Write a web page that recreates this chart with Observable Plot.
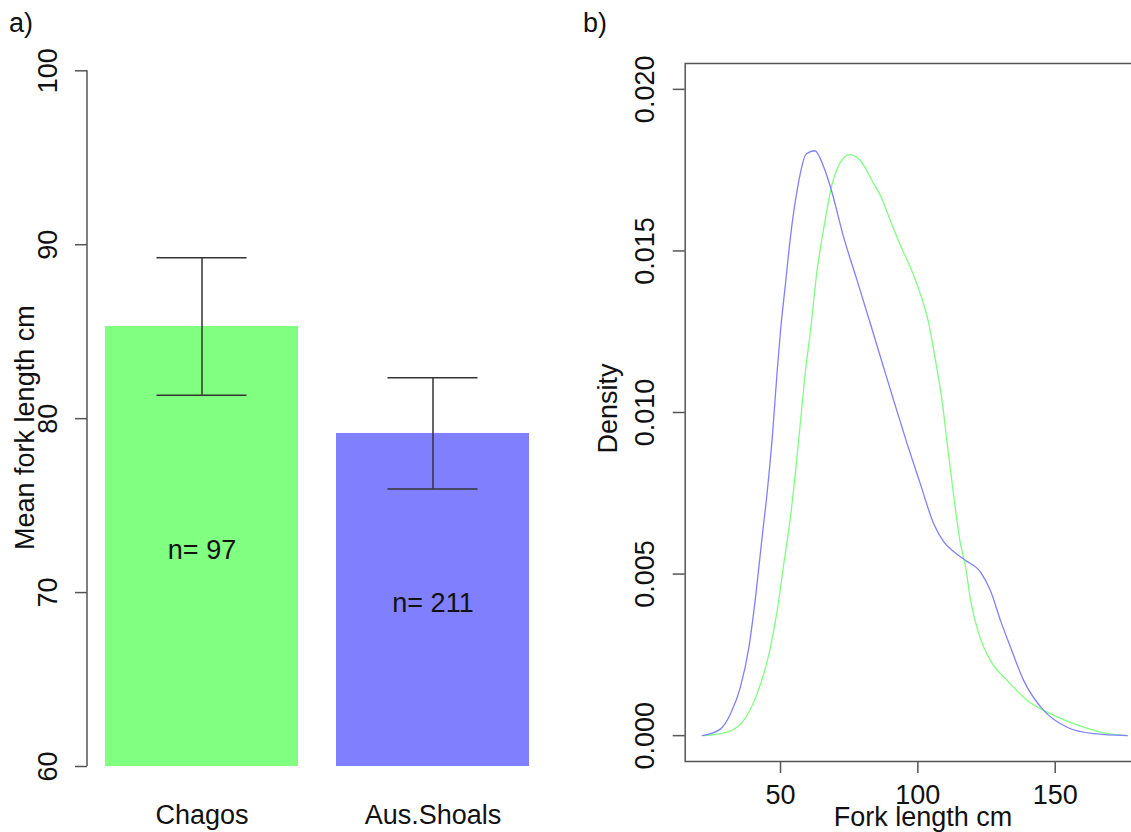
<!DOCTYPE html>
<html><head><meta charset="utf-8">
<script src="https://cdn.jsdelivr.net/npm/d3@7"></script>
<script src="https://cdn.jsdelivr.net/npm/@observablehq/plot@0.6"></script>
<style>
html,body{margin:0;padding:0;background:#fff;overflow:hidden;}
#wrap{position:relative;width:1131px;height:832px;overflow:hidden;font-family:"Liberation Sans",Arial,Helvetica,sans-serif;color:#111;background:#fff;}
.panel{position:absolute;top:0;height:832px;}
.panel svg{max-width:none !important;}
.tag{position:absolute;font-size:27px;line-height:27px;white-space:nowrap;}
</style></head><body>
<div id="wrap">
 <div id="left" class="panel" style="left:0;width:580px"></div>
 <div id="right" class="panel" style="left:560px;width:600px"></div>
 <div class="tag" style="left:9px;top:10px">a)</div>
 <div class="tag" style="left:583px;top:10px">b)</div>
</div>
<script>
// ---- panel a) data ----
const sites = ["Chagos", "Aus.Shoals"];
const meanLength = [85.3, 79.15];
const seLength = [3.95, 3.2];
const sampleN = [97, 211];
const nLabelY = [72.4, 69.4];
const barYTicks = [60, 70, 80, 90, 100];

// ---- panel b) data (kernel density curves) ----
const ausX = [21.5, 28.2, 31.8, 35.4, 38.5, 40.9, 43.3, 45.2, 47.0, 48.8, 50.0, 51.8, 53.6, 56.3, 59.35, 62.5, 65.8, 68.2, 73.0, 77.9, 82.75, 88.8, 91.2, 96.1, 100.9, 105.8, 109.5, 113.0, 117.4, 122.8, 126.4, 130.1, 133.7, 138.5, 145.8, 154.3, 164.0, 176.2];
const ausY = [0, 0.00021, 0.00068, 0.0015, 0.00274, 0.00428, 0.00614, 0.00758, 0.00923, 0.0113, 0.01253, 0.01398, 0.01542, 0.0170, 0.0180, 0.0181, 0.01758, 0.01697, 0.01542, 0.01408, 0.01274, 0.01104, 0.01037, 0.00903, 0.00779, 0.00655, 0.00599, 0.0057, 0.00542, 0.00506, 0.00449, 0.00356, 0.00274, 0.00171, 0.00078, 0.00026, 0.00006, 0];
const chagosX = [22.1, 30.6, 36.6, 41.5, 45.8, 48.8, 51.2, 53.6, 55.5, 57.3, 59.1, 60.9, 63.3, 65.8, 68.8, 71.8, 75.2, 79.1, 84.0, 86.4, 90.0, 93.5, 97.3, 100.9, 104.0, 106.4, 108.8, 110.7, 112.5, 115.5, 117.4, 119.2, 122.2, 126.4, 132.5, 139.8, 147.1, 156.8, 166.5, 176.2];
const chagosY = [0, 0.00011, 0.00047, 0.0013, 0.00253, 0.00387, 0.00532, 0.00676, 0.0082, 0.00975, 0.0113, 0.01253, 0.01439, 0.01573, 0.01707, 0.01774, 0.01798, 0.01779, 0.01707, 0.01671, 0.01594, 0.0152, 0.01449, 0.01367, 0.01274, 0.01161, 0.01037, 0.00903, 0.00779, 0.00594, 0.00521, 0.00418, 0.00315, 0.00233, 0.00171, 0.00109, 0.00073, 0.00037, 0.00011, 0];
const densXTicks = [50, 100, 150];
const densYTicks = [0, 0.005, 0.010, 0.015, 0.020];

// ---- styles ----
const FONT = '"Liberation Sans", Arial, Helvetica, sans-serif';
const GREEN = "#80ff80", BLUE = "#8080ff", AXIS = "#555", INK = "#111";
const siteColor = {"Chagos": GREEN, "Aus.Shoals": BLUE};

const barData = sites.map((s, i) => ({site: s, mean: meanLength[i], se: seLength[i], n: sampleN[i], ly: nLabelY[i]}));
const ausData = ausX.map((x, i) => ({x, y: ausY[i]}));
const chagosData = chagosX.map((x, i) => ({x, y: chagosY[i]}));

const yAxisLine = (index, scales, values, dims) => {
  const y1 = scales && scales.y ? scales.y(barYTicks[0]) : dims.height - dims.marginBottom;
  const y2 = scales && scales.y ? scales.y(barYTicks[barYTicks.length - 1]) : dims.marginTop;
  return d3.create("svg:line")
    .attr("x1", dims.marginLeft).attr("x2", dims.marginLeft)
    .attr("y1", y1).attr("y2", y2)
    .attr("stroke", AXIS).attr("stroke-width", 1.5).node();
};

const baseStyle = {fontFamily: FONT, fontSize: "27px", color: INK, background: "transparent", overflow: "visible", maxWidth: "none"};

const leftW = 580;
const left = Plot.plot({
  width: leftW, height: 832,
  marginLeft: 87, marginRight: leftW - 545.6, marginTop: 70.3, marginBottom: 66,
  x: {type: "band", domain: sites, paddingInner: 1/6, paddingOuter: 0.0733, align: 0.5},
  y: {domain: [60, 100]},
  style: baseStyle,
  marks: [
    Plot.barY(barData, {x: "site", y1: 60, y2: "mean", fill: d => siteColor[d.site]}),
    Plot.ruleX(barData, {x: "site", y1: d => d.mean - d.se, y2: d => d.mean + d.se, stroke: "#333", strokeWidth: 1.5}),
    Plot.tickY(barData, {x: "site", y: d => d.mean + d.se, insetLeft: 51.5, insetRight: 51.5, stroke: "#333", strokeWidth: 1.5}),
    Plot.tickY(barData, {x: "site", y: d => d.mean - d.se, insetLeft: 51.5, insetRight: 51.5, stroke: "#333", strokeWidth: 1.5}),
    Plot.text(barData, {x: "site", y: "ly", text: d => `n= ${d.n}`, fontSize: 27, fill: INK}),
    Plot.axisY({ticks: barYTicks, tickSize: 12, tickPadding: 19, tickRotate: -90, fontSize: 27, label: null, stroke: AXIS, strokeWidth: 1.5, fill: INK}),
    Plot.axisX({tickSize: 0, tickPadding: 38, fontSize: 27, label: null, fill: INK}),
    Plot.text(["Mean fork length cm"], {frameAnchor: "left", textAnchor: "middle", rotate: -90, dx: -62.3, dy: 9, fontSize: 27, lineAnchor: "middle", fill: INK}),
    yAxisLine
  ]
});
document.getElementById("left").appendChild(left);

const rightW = 600;
const right = Plot.plot({
  width: rightW, height: 832,
  marginLeft: 124.7, marginRight: 16, marginTop: 63, marginBottom: 71,
  x: {domain: [15.3, 182.5]},
  y: {domain: [-0.0008, 0.0208]},
  style: baseStyle,
  marks: [
    Plot.frame({stroke: AXIS, strokeWidth: 1.5}),
    Plot.line(chagosData, {x: "x", y: "y", stroke: GREEN, strokeWidth: 1.3, curve: "monotone-x"}),
    Plot.line(ausData, {x: "x", y: "y", stroke: BLUE, strokeWidth: 1.3, curve: "monotone-x"}),
    Plot.axisX({ticks: densXTicks, tickSize: 12, tickPadding: 11, fontSize: 27, label: null, stroke: AXIS, strokeWidth: 1.5, fill: INK}),
    Plot.axisY({ticks: densYTicks, tickFormat: d3.format(".3f"), tickSize: 12, tickPadding: 19, tickRotate: -90, fontSize: 27, label: null, stroke: AXIS, strokeWidth: 1.5, fill: INK}),
    Plot.text(["Density"], {frameAnchor: "left", textAnchor: "middle", rotate: -90, dx: -77.3, dy: -4, fontSize: 27, lineAnchor: "middle", fill: INK}),
    Plot.text(["Fork length cm"], {frameAnchor: "bottom", dx: 8.15, dy: 55.4, fontSize: 27, lineAnchor: "middle", fill: INK})
  ]
});
document.getElementById("right").appendChild(right);
</script>
</body></html>
